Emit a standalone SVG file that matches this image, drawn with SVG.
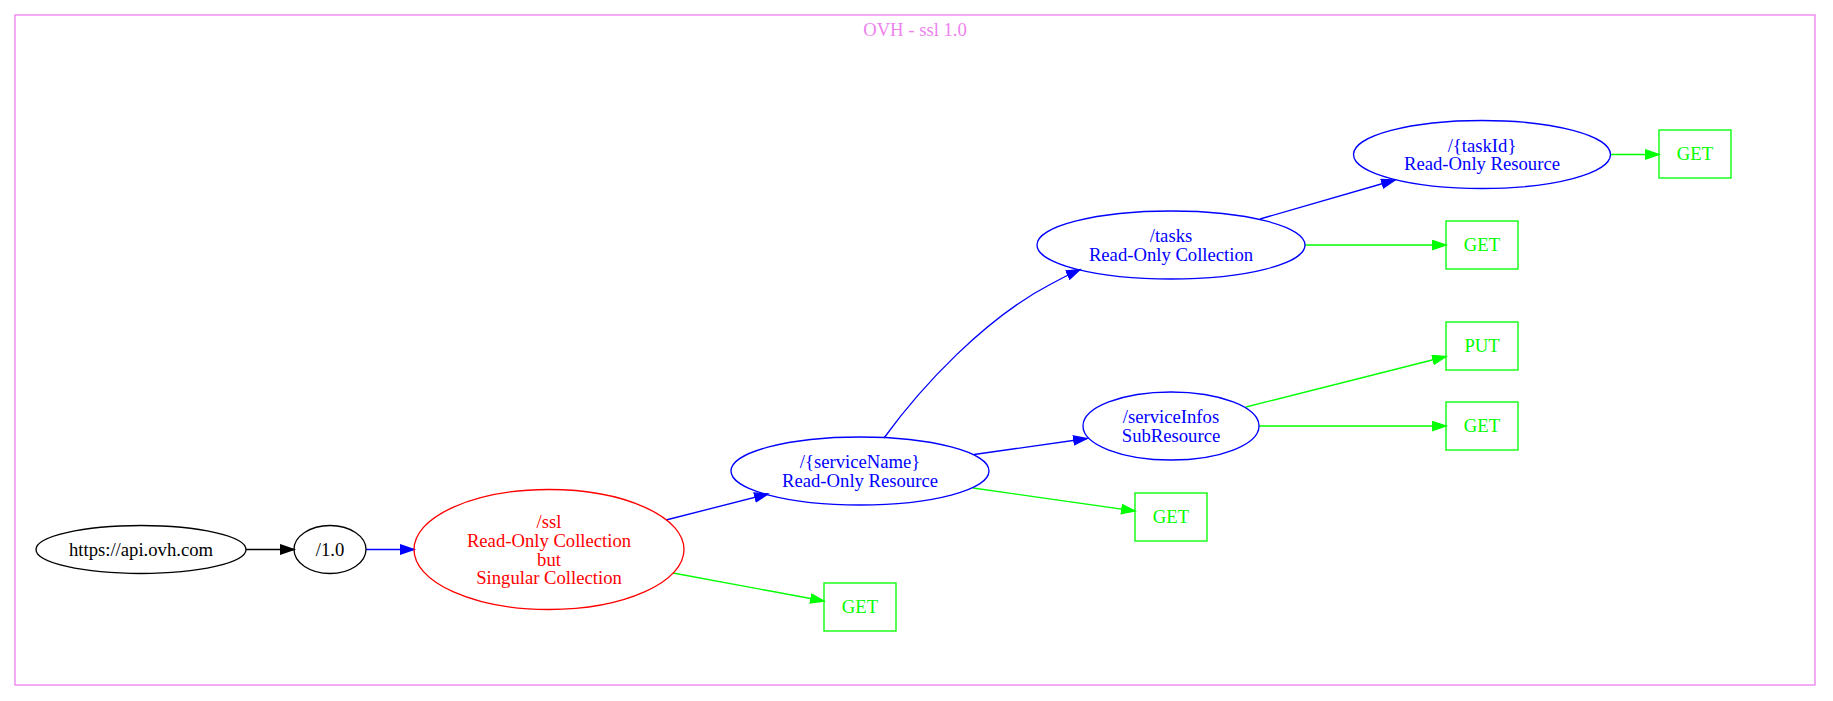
<svg xmlns="http://www.w3.org/2000/svg" width="1833" height="701" viewBox="0 0 1833 701">
<style>
text{font-family:"Liberation Serif","Times New Roman",serif;font-size:18.67px;text-anchor:middle}
.n ellipse,.n rect{fill:none;stroke-width:1.33}
.k ellipse{stroke:#000}.k text{fill:#000}
.r ellipse{stroke:#f00}.r text{fill:#f00}
.b ellipse{stroke:#00f}.b text{fill:#00f}
.g rect{stroke:#0f0}.g text{fill:#0f0}
.e path{fill:none;stroke-width:1.33}
.ek{stroke:#000}.eb{stroke:#00f}.eg{stroke:#0f0}
</style>
<defs>
<marker id="ak" markerUnits="userSpaceOnUse" markerWidth="17" markerHeight="13" refX="14" refY="5.2" orient="auto"><path d="M0.7,0.7L14,5.2L0.7,9.7Z" fill="#000" stroke="#000" stroke-width="1.33"/></marker>
<marker id="ab" markerUnits="userSpaceOnUse" markerWidth="17" markerHeight="13" refX="14" refY="5.2" orient="auto"><path d="M0.7,0.7L14,5.2L0.7,9.7Z" fill="#00f" stroke="#00f" stroke-width="1.33"/></marker>
<marker id="ag" markerUnits="userSpaceOnUse" markerWidth="17" markerHeight="13" refX="14" refY="5.2" orient="auto"><path d="M0.7,0.7L14,5.2L0.7,9.7Z" fill="#0f0" stroke="#0f0" stroke-width="1.33"/></marker>
</defs>
<rect width="1833" height="701" fill="#fff"/>
<g id="cluster">
<rect x="15" y="15" width="1800" height="670" fill="none" stroke="#ee82ee" stroke-width="1.33"/>
<text x="915" y="36" fill="#ee82ee">OVH - ssl 1.0</text>
</g>
<g id="edges" class="e">
<path class="ek" d="M246,549.5L294,549.5" marker-end="url(#ak)"/>
<path class="eb" d="M366,549.5L414,549.5" marker-end="url(#ab)"/>
<path class="eb" d="M666,520L768,494" marker-end="url(#ab)"/>
<path class="eg" d="M673,573L824,601" marker-end="url(#ag)"/>
<path class="eb" d="M974,454.5L1087,438.5" marker-end="url(#ab)"/>
<path class="eg" d="M973,488L1135,511" marker-end="url(#ag)"/>
<path class="eb" d="M884,438C921,387 985,318 1051,284 1060,279 1070,274 1080,269.5" marker-end="url(#ab)"/>
<path class="eb" d="M1260,219L1395,180" marker-end="url(#ab)"/>
<path class="eg" d="M1305,245L1446,245" marker-end="url(#ag)"/>
<path class="eg" d="M1611,154.5L1659,154.5" marker-end="url(#ag)"/>
<path class="eg" d="M1246,407L1446,356.5" marker-end="url(#ag)"/>
<path class="eg" d="M1259,426L1446,426" marker-end="url(#ag)"/>
</g>
<g id="n_api" class="n k"><ellipse cx="141" cy="549.5" rx="105" ry="24"/><text x="141" y="556">https://api.ovh.com</text></g>
<g id="n_v10" class="n k"><ellipse cx="330" cy="549.5" rx="36" ry="24"/><text x="330" y="556">/1.0</text></g>
<g id="n_ssl" class="n r"><ellipse cx="549" cy="549.5" rx="135" ry="60"/>
<text x="549" y="528">/ssl</text><text x="549" y="547">Read-Only Collection</text><text x="549" y="565.5">but</text><text x="549" y="584">Singular Collection</text></g>
<g id="n_ssl_get" class="n g"><rect x="824" y="583" width="72" height="48"/><text x="860" y="613">GET</text></g>
<g id="n_sn" class="n b"><ellipse cx="860" cy="471" rx="129" ry="34"/><text x="860" y="468">/{serviceName}</text><text x="860" y="486.5">Read-Only Resource</text></g>
<g id="n_sn_get" class="n g"><rect x="1135" y="493" width="72" height="48"/><text x="1171" y="523">GET</text></g>
<g id="n_si" class="n b"><ellipse cx="1171" cy="426" rx="88" ry="34"/><text x="1171" y="423">/serviceInfos</text><text x="1171" y="441.5">SubResource</text></g>
<g id="n_si_put" class="n g"><rect x="1446" y="322" width="72" height="48"/><text x="1482" y="352">PUT</text></g>
<g id="n_si_get" class="n g"><rect x="1446" y="402" width="72" height="48"/><text x="1482" y="432">GET</text></g>
<g id="n_tasks" class="n b"><ellipse cx="1171" cy="245" rx="134" ry="34"/><text x="1171" y="242">/tasks</text><text x="1171" y="260.5">Read-Only Collection</text></g>
<g id="n_tasks_get" class="n g"><rect x="1446" y="221" width="72" height="48"/><text x="1482" y="251">GET</text></g>
<g id="n_tid" class="n b"><ellipse cx="1482" cy="154.5" rx="128.5" ry="34"/><text x="1482" y="151.5">/{taskId}</text><text x="1482" y="170">Read-Only Resource</text></g>
<g id="n_tid_get" class="n g"><rect x="1659" y="130" width="72" height="48"/><text x="1695" y="160">GET</text></g>
</svg>
